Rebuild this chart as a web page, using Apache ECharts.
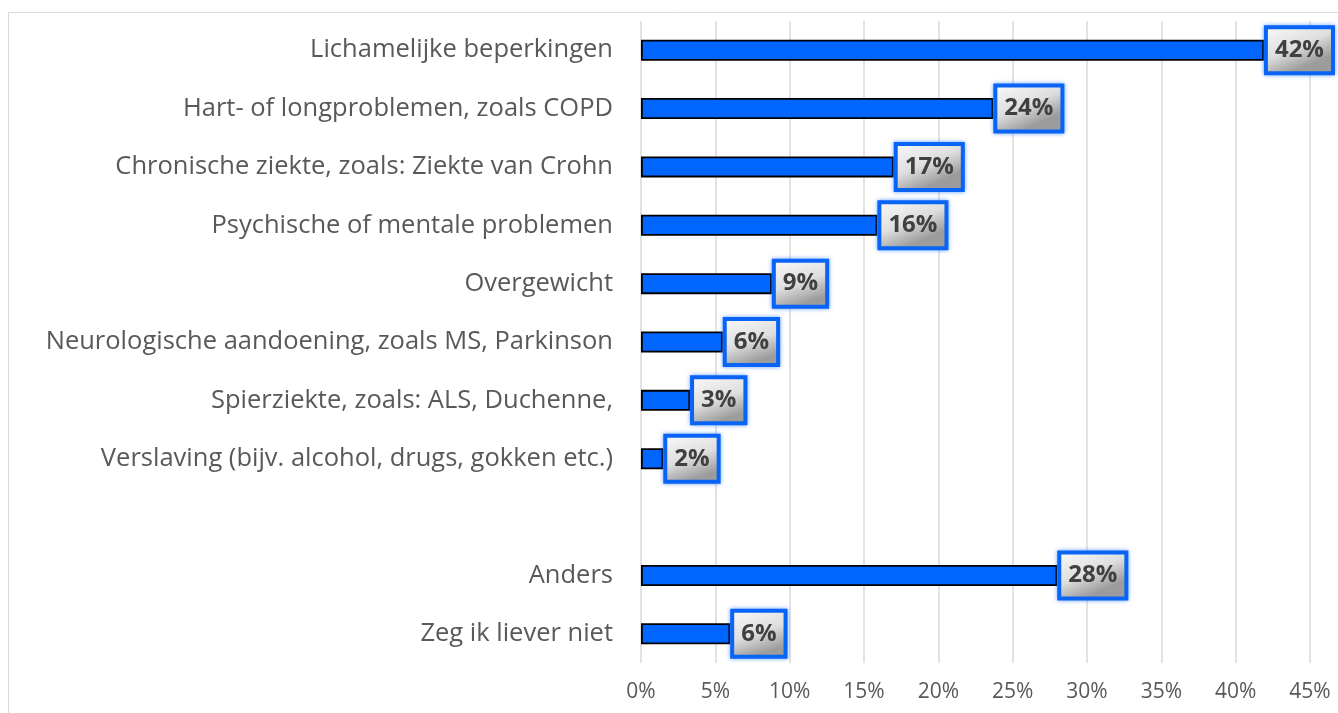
<!DOCTYPE html>
<html>
<head>
<meta charset="utf-8">
<script src="https://cdn.jsdelivr.net/npm/echarts@6/dist/echarts.min.js"></script>
<style>
  html, body { margin: 0; padding: 0; background: #fff; }
  #chart { width: 1338px; height: 713px; }
</style>
</head>
<body>
<div id="chart"></div>
<script>
// categories top to bottom, '' is the empty gap row
const categories = [
  'Lichamelijke beperkingen',
  'Hart- of longproblemen, zoals COPD',
  'Chronische ziekte, zoals: Ziekte van Crohn',
  'Psychische of mentale problemen',
  'Overgewicht',
  'Neurologische aandoening, zoals MS, Parkinson',
  'Spierziekte, zoals: ALS, Duchenne,',
  'Verslaving (bijv. alcohol, drugs, gokken etc.)',
  '',
  'Anders',
  'Zeg ik liever niet'
];
// percentages
const values = [41.9, 23.7, 17.0, 15.9, 8.8, 5.5, 3.3, 1.5, null, 28.0, 6.0];
const xTicks = [0, 5, 10, 15, 20, 25, 30, 35, 40, 45];

const chart = echarts.init(document.getElementById('chart'));

const option = {
  animation: false,
  graphic: [{
    type: 'rect',
    shape: { x: 8.5, y: 12.5, width: 1340, height: 720 },
    style: { fill: 'none', stroke: '#d9d9d9', lineWidth: 1 },
    silent: true
  }],
  grid: { left: 641, right: 28, top: 21, bottom: 50 },
  xAxis: {
    type: 'value',
    min: xTicks[0],
    max: xTicks[xTicks.length - 1],
    interval: 5,
    axisLine: { show: false },
    axisTick: { show: false },
    splitLine: { lineStyle: { color: '#d9d9d9', width: 1.5 } },
    axisLabel: {
      formatter: v => v + '%',
      color: '#595959',
      fontFamily: 'Open Sans',
      fontSize: 21,
      margin: 19
    }
  },
  yAxis: {
    type: 'category',
    inverse: true,
    data: categories,
    axisLine: { show: false },
    axisTick: { show: false },
    axisLabel: {
      color: '#595959',
      fontFamily: 'Open Sans',
      fontSize: 25.5,
      margin: 28
    }
  },
  series: [{
    type: 'bar',
    data: values,
    barWidth: 21,
    itemStyle: {
      color: '#0066ff',
      borderColor: '#000',
      borderWidth: 1.8
    },
    label: {
      show: true,
      position: 'right',
      distance: 4,
      formatter: p => Math.round(p.value) + '%',
      color: '#404040',
      fontFamily: 'Open Sans',
      fontWeight: 'bold',
      fontSize: 24,
      padding: [10, 7, 8, 7],
      borderColor: '#0a64f5',
      borderWidth: 4,
      shadowColor: 'rgba(0,102,255,0.6)',
      shadowBlur: 4,
      backgroundColor: new echarts.graphic.LinearGradient(0, 0, 0.3, 1, [
        { offset: 0, color: '#fbfbfb' },
        { offset: 0.6, color: '#dedede' },
        { offset: 1, color: '#9c9c9c' }
      ])
    }
  }]
};

chart.setOption(option);
</script>
</body>
</html>
